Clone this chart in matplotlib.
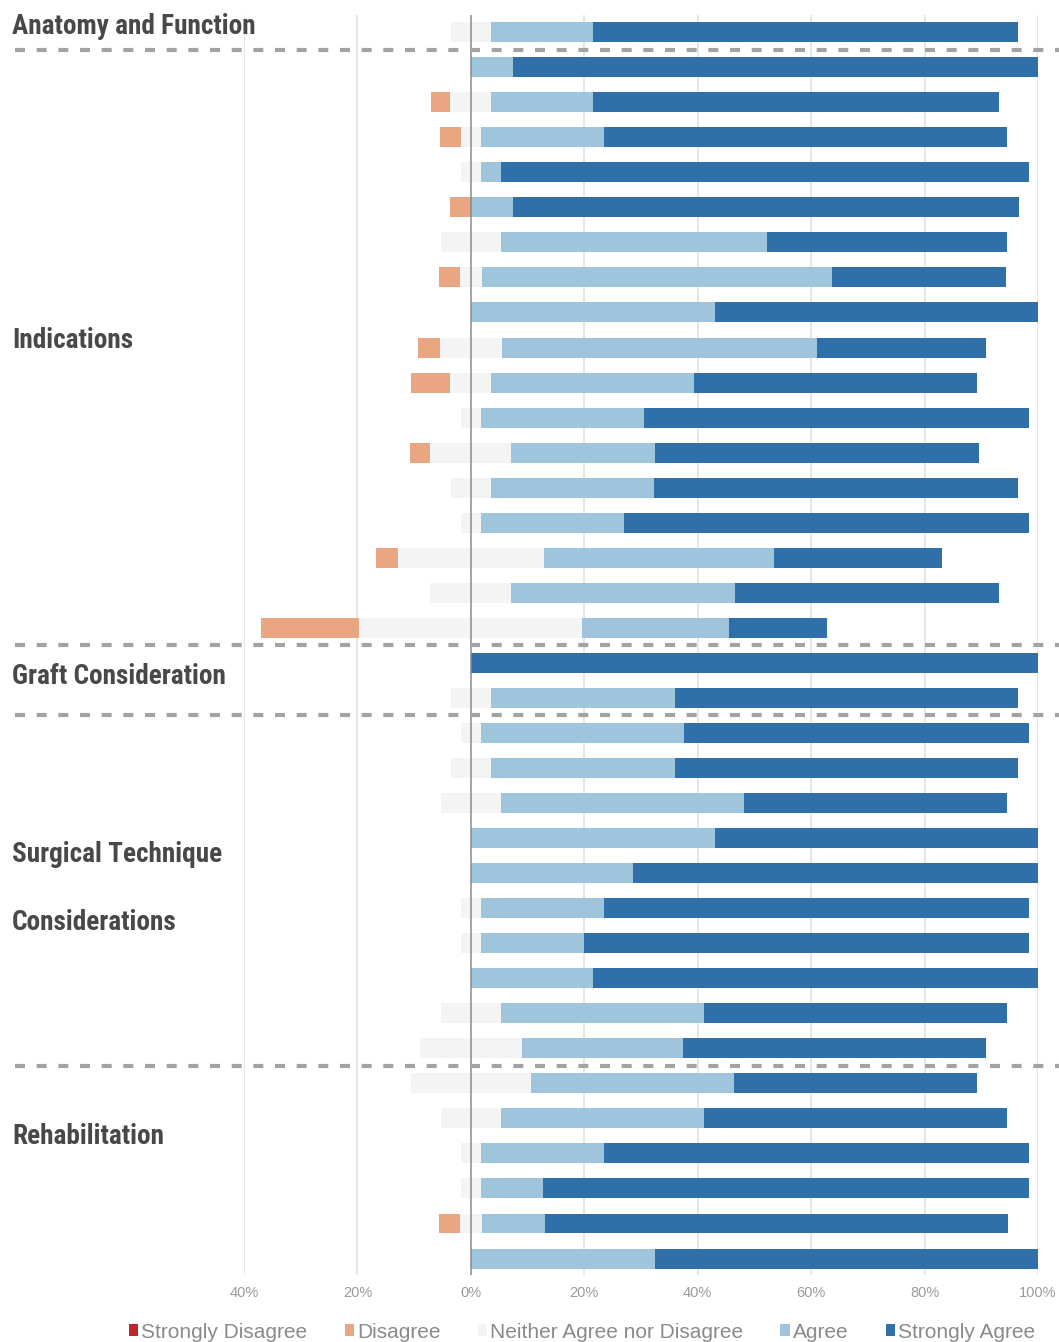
import numpy as np
import matplotlib
matplotlib.use("Agg")
import matplotlib.pyplot as plt
from matplotlib.patches import Patch
from matplotlib.lines import Line2D
from matplotlib import font_manager as fm
import matplotlib.transforms as mtransforms

# ---------------- data ----------------
groups = ["Anatomy and Function", "Indications", "Graft Consideration",
          "Surgical Technique", "Considerations", "Rehabilitation"]
group_sizes = [1, 17, 2, 10, 6]   # rows per section (Surgical Technique Considerations = 10)

legend_labels = ["Strongly Disagree", "Disagree", "Neither Agree nor Disagree",
                 "Agree", "Strongly Agree"]

strongly_disagree = [0.0] * 36
disagree = [0, 0, 3.5, 3.6, 0, 3.6, 0, 3.8, 0, 3.8, 7.0, 0, 3.5, 0, 0, 3.9, 0, 17.4,
            0, 0,
            0, 0, 0, 0, 0, 0, 0, 0, 0, 0,
            0, 0, 0, 0, 3.6, 0]
neutral = [7.1, 0, 7.2, 3.6, 3.6, 0, 10.7, 3.8, 0, 11.0, 7.2, 3.6, 14.3, 7.1, 3.6, 25.7, 14.3, 39.3,
           0, 7.1,
           3.6, 7.1, 10.7, 0, 0, 3.6, 3.6, 0, 10.7, 18.1,
           21.2, 10.7, 3.6, 3.6, 3.9, 0]
agree = [17.9, 7.4, 17.9, 21.6, 3.6, 7.4, 46.8, 61.8, 43.1, 55.6, 35.7, 28.7, 25.4, 28.8, 25.2, 40.6, 39.5, 25.8,
         0, 32.4,
         35.8, 32.4, 42.8, 43.1, 28.6, 21.6, 18.1, 21.5, 35.8, 28.4,
         35.8, 35.8, 21.6, 11.0, 11.2, 32.5]
strongly_agree = [75.1, 92.6, 71.6, 71.2, 93.0, 89.2, 42.4, 30.6, 56.9, 29.7, 50.0, 67.9, 57.0, 64.1, 71.4, 29.6, 46.5, 17.4,
                  100.0, 60.6,
                  60.8, 60.6, 46.4, 56.9, 71.4, 75.0, 78.5, 78.5, 53.4, 53.4,
                  42.9, 53.4, 75.0, 85.6, 81.5, 67.5]

tick_values = [-40, -20, 0, 20, 40, 60, 80, 100]
tick_labels = ["40%", "20%", "0%", "20%", "40%", "60%", "80%", "100%"]

# ---------------- style ----------------
colors = ["#c0272d", "#eaa583", "#f4f4f4", "#9ec5dc", "#2f70ab"]
names = {f.name for f in fm.fontManager.ttflist}
cond_font = next((n for n in ["Liberation Sans Narrow", "DejaVu Sans Condensed",
                              "Roboto Condensed", "Open Sans Condensed"] if n in names),
                 "Liberation Sans")
plain_font = "Liberation Sans" if "Liberation Sans" in names else "DejaVu Sans"

W, H = 1059, 1342
fig = plt.figure(figsize=(W / 100, H / 100), dpi=100)
ax = fig.add_axes([244 / W, 1 - 1275 / H, (1038 - 244) / W, (1275 - 15) / H])

sd = np.array(strongly_disagree)
d = np.array(disagree)
n = np.array(neutral)
a = np.array(agree)
s = np.array(strongly_agree)
y = np.arange(len(d))
h = 0.57

ax.barh(y, n, left=-n / 2, height=h, color=colors[2], zorder=2)
ax.barh(y, d, left=-n / 2 - d, height=h, color=colors[1], zorder=2)
ax.barh(y, sd, left=-n / 2 - d - sd, height=h, color=colors[0], zorder=2)
ax.barh(y, a, left=n / 2, height=h, color=colors[3], zorder=2)
ax.barh(y, s, left=n / 2 + a, height=h, color=colors[4], zorder=2)

ax.set_xlim(-40, 100)
ax.set_ylim(len(d) - 0.53, -0.49)
ax.set_xticks(tick_values)
ax.set_xticklabels(tick_labels, color="#9a9a9a", fontsize=10.5, family=plain_font)
ax.set_yticks([])
ax.tick_params(axis="x", length=0, pad=8)
for sp in ax.spines.values():
    sp.set_visible(False)
for tv in tick_values:
    if tv != 0:
        ax.axvline(tv, color="#e2e2e2", lw=1.2, zorder=0)
ax.axvline(0, color="#8a8a8a", lw=1.1, zorder=3)

# dashed section separators
trans = mtransforms.blended_transform_factory(ax.transAxes, ax.transData)
bounds = np.cumsum(group_sizes)[:-1] - 0.5
x0 = (15 - 244) / (1038 - 244)
x1 = (1062 - 244) / (1038 - 244)
for b in bounds:
    ax.add_line(Line2D([x0, x1], [b, b], transform=trans, clip_on=False,
                       color="#a3a3a3", lw=3.0, linestyle=(0, (2.4, 2.8)), zorder=4))

# section labels
label_y = [26, 341, 677, 855, 922, 1136]
for g, yy in zip(groups, label_y):
    fig.text(12 / W, 1 - yy / H, g, family=cond_font, fontweight="bold",
             fontsize=19.6, color="#484848", va="center", ha="left")

# legend
handles = [Patch(facecolor=c, edgecolor="none") for c in colors]
fig.legend(handles, legend_labels, loc="center", bbox_to_anchor=(582 / W, 1 - 1332 / H),
           ncol=5, frameon=False, handlelength=0.45, handleheight=0.45,
           handletextpad=0.15, columnspacing=1.78,
           prop={"family": plain_font, "size": 15}, labelcolor="#8a8a8a")

fig.savefig("out.png", dpi=100, facecolor="white")
